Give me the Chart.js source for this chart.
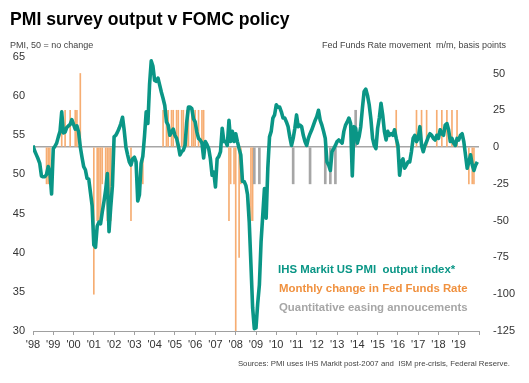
<!DOCTYPE html>
<html>
<head>
<meta charset="utf-8">
<script src="https://cdn.jsdelivr.net/npm/chart.js@4.4.1/dist/chart.umd.min.js"></script>
<style>
html, body { margin: 0; padding: 0; background: #fff; }
#wrap { width: 529px; height: 383px; position: relative; }
</style>
</head>
<body>
<div id="wrap"><canvas id="pmiChart"></canvas></div>
<script>
// PMI output index, monthly from Jan 1998 (ISM pre-2007, IHS Markit after)
const pmi = [
  53.7, 53.0, 52.5, 52.0, 51.4, 49.8, 49.7, 49.7, 50.0, 51.0, 50.3, 47.5, // 1998
  53.3, 53.6, 54.0, 54.8, 55.5, 58.0, 55.3, 55.4, 56.0, 56.2, 56.4, 57.0, // 1999
  56.4, 55.8, 56.2, 55.4, 53.5, 52.2, 51.0, 50.6, 49.5, 49.4, 47.7, 46.0, // 2000
  41.0, 40.7, 43.4, 43.9, 43.7, 45.2, 46.5, 48.0, 50.1, 42.7, 45.8, 48.5, // 2001
  54.8, 55.0, 55.4, 55.9, 56.5, 57.3, 55.6, 53.5, 52.5, 51.6, 51.2, 52.0, // 2002
  52.2, 51.6, 46.6, 47.4, 51.4, 52.3, 54.9, 58.0, 56.5, 61.5, 64.5, 63.8, // 2003
  62.0, 61.9, 62.3, 61.4, 60.5, 59.7, 58.8, 56.7, 56.3, 55.0, 55.4, 55.8, // 2004
  55.0, 54.6, 53.7, 52.5, 52.9, 53.1, 53.7, 56.7, 58.6, 58.6, 58.4, 57.1, // 2005
  56.7, 55.4, 54.6, 54.4, 54.0, 52.1, 54.2, 53.8, 53.3, 52.0, 49.9, 50.3, // 2006
  48.4, 52.0, 52.3, 52.9, 55.9, 54.2, 54.2, 53.7, 56.9, 54.2, 55.5, 54.2, // 2007
  55.2, 54.2, 53.3, 52.5, 49.1, 49.1, 48.6, 47.4, 43.9, 38.5, 33.0, 30.3, // 2008
  30.4, 33.5, 35.9, 41.4, 44.8, 48.2, 44.4, 50.8, 54.8, 55.5, 57.2, 57.6, // 2009
  58.9, 58.6, 58.6, 58.0, 57.2, 57.2, 56.7, 56.1, 54.8, 53.7, 54.6, 55.9, // 2010
  57.6, 56.1, 56.3, 56.1, 55.0, 54.2, 53.7, 54.6, 55.2, 55.7, 56.3, 56.9, // 2011
  57.4, 58.2, 56.9, 56.3, 55.5, 54.6, 51.6, 51.2, 50.5, 52.9, 53.3, 53.7, // 2012
  54.2, 54.4, 54.2, 54.0, 55.5, 56.3, 56.7, 57.2, 56.5, 49.8, 56.1, 55.9, // 2013
  54.0, 54.8, 56.1, 58.5, 60.6, 60.9, 60.1, 58.9, 57.1, 54.6, 53.7, 53.3, // 2014
  55.9, 57.2, 59.1, 57.6, 55.5, 54.4, 55.5, 55.0, 55.2, 55.0, 55.7, 54.6, // 2015
  53.7, 49.9, 51.6, 52.0, 50.8, 51.2, 51.6, 51.6, 52.9, 54.6, 55.0, 54.2, // 2016
  54.6, 56.1, 53.7, 52.9, 53.7, 54.2, 54.8, 55.2, 55.0, 54.6, 54.4, 55.0, // 2017
  54.6, 55.7, 55.2, 55.0, 56.3, 56.5, 55.7, 54.2, 54.6, 54.0, 53.7, 54.6, // 2018
  54.4, 55.0, 55.2, 54.2, 52.5, 50.8, 51.6, 52.5, 51.2, 50.5, 51.2, 51.6  // 2019
];

// Fed funds rate changes, basis points per month
const fedMonths = [
  '1998-09', '1998-10', '1998-11',
  '1999-06', '1999-08', '1999-11',
  '2000-02', '2000-03', '2000-05',
  '2001-01', '2001-03', '2001-04', '2001-05', '2001-06', '2001-08', '2001-09', '2001-10', '2001-11', '2001-12',
  '2002-11', '2003-06',
  '2004-06', '2004-08', '2004-09', '2004-11', '2004-12',
  '2005-02', '2005-03', '2005-05', '2005-06', '2005-08', '2005-09', '2005-11', '2005-12',
  '2006-01', '2006-03', '2006-05', '2006-06',
  '2007-09', '2007-10', '2007-12',
  '2008-01', '2008-03', '2008-04', '2008-10', '2008-11',
  '2015-12', '2016-12',
  '2017-03', '2017-06', '2017-12',
  '2018-03', '2018-06', '2018-09', '2018-12',
  '2019-07', '2019-09', '2019-10'
];
const fedChanges = [
  -25, -25, -25,
  25, 25, 25,
  25, 25, 50,
  -100, -50, -50, -50, -25, -25, -50, -50, -50, -25,
  -50, -25,
  25, 25, 25, 25, 25,
  25, 25, 25, 25, 25, 25, 25, 25,
  25, 25, 25, 25,
  -50, -25, -25,
  -125, -75, -25, -50, -50,
  25, 25,
  25, 25, 25,
  25, 25, 25, 25,
  -25, -25, -25
];

// Quantitative easing announcements (marker bars)
const qeMonths = ['2008-12', '2009-03', '2010-11', '2011-09', '2012-06', '2012-09', '2012-12', '2013-12'];
const qeMarks = [-25, -25, -25, -25, -25, -25, -25, 25];

const yearLabels = ["'98", "'99", "'00", "'01", "'02", "'03", "'04", "'05", "'06", "'07", "'08",
  "'09", "'10", "'11", "'12", "'13", "'14", "'15", "'16", "'17", "'18", "'19"];
const rightTicks = [-125, -100, -75, -50, -25, 0, 25, 50];

const TEAL = '#0a9686';
const ORANGE = '#f6ad72';
const GREY = '#a6a6a6';
const FONT = '"Liberation Sans", Arial, sans-serif';

const monthIndex = s => (parseInt(s.slice(0, 4)) - 1998) * 12 + parseInt(s.slice(5, 7)) - 1;

const textPlugin = {
  id: 'texts',
  afterDraw(chart) {
    const c = chart.ctx;
    c.save();
    c.textBaseline = 'alphabetic';
    c.fillStyle = '#000';
    c.textAlign = 'left';
    c.font = 'bold 17.6px ' + FONT;
    c.fillText('PMI survey output v FOMC policy', 10, 25);

    c.fillStyle = '#444';
    c.font = '9px ' + FONT;
    c.fillText('PMI, 50 = no change', 10, 47.5);
    c.textAlign = 'right';
    c.fillText('Fed Funds Rate movement  m/m, basis points', 506, 47.5);

    c.font = '7.8px ' + FONT;
    c.fillText('Sources: PMI uses IHS Markit post-2007 and  ISM pre-crisis, Federal Reserve.', 510, 366);

    c.textAlign = 'left';
    c.font = 'bold 11.4px ' + FONT;
    c.fillStyle = TEAL;
    c.fillText('IHS Markit US PMI  output index*', 278, 273);
    c.fillStyle = '#f0913f';
    c.fillText('Monthly change in Fed Funds Rate', 279, 292);
    c.fillStyle = GREY;
    c.fillText('Quantitative easing annoucements', 279, 311);
    c.restore();
  }
};

new Chart(document.getElementById('pmiChart'), {
  type: 'bar',
  data: {
    datasets: [
      {
        type: 'line',
        label: 'IHS Markit US PMI output index*',
        data: pmi.map((v, i) => ({ x: i, y: v })),
        yAxisID: 'y',
        borderColor: TEAL,
        borderWidth: 3.6,
        pointRadius: 0,
        tension: 0,
        borderJoinStyle: 'round',
        order: 0
      },
      {
        label: 'Monthly change in Fed Funds Rate',
        data: fedMonths.map((m, i) => ({ x: monthIndex(m), y: fedChanges[i] })),
        yAxisID: 'y1',
        backgroundColor: ORANGE,
        barThickness: 1,
        grouped: false,
        order: 2
      },
      {
        label: 'Quantitative easing annoucements',
        data: qeMonths.map((m, i) => ({ x: monthIndex(m), y: qeMarks[i] })),
        yAxisID: 'y1',
        backgroundColor: GREY,
        barThickness: 2,
        grouped: false,
        order: 1
      }
    ]
  },
  options: {
    responsive: true,
    maintainAspectRatio: false,
    animation: false,
    devicePixelRatio: 1,
    layout: { padding: { top: 57, left: 0, right: 0, bottom: 0 } },
    plugins: { legend: { display: false }, tooltip: { enabled: false } },
    scales: {
      x: {
        type: 'linear',
        min: 0,
        max: 264,
        offset: false,
        afterFit: s => { s.height = 52; },
        ticks: {
          stepSize: 12,
          autoSkip: false,
          maxRotation: 0,
          padding: 3,
          color: '#333',
          font: { family: FONT, size: 11 },
          callback: v => yearLabels[v / 12] || ''
        },
        grid: { drawOnChartArea: false, offset: false, tickLength: 4, color: '#a0a0a0' },
        border: { display: true, color: '#a0a0a0' }
      },
      y: {
        position: 'left',
        min: 30,
        max: 65,
        afterFit: s => { s.width = 33; },
        ticks: { stepSize: 5, padding: 8, color: '#333', font: { family: FONT, size: 11 } },
        grid: { display: false, drawTicks: false },
        border: { display: false }
      },
      y1: {
        position: 'right',
        min: -125,
        max: 61.2,
        afterFit: s => { s.width = 50; },
        afterBuildTicks: s => { s.ticks = rightTicks.map(v => ({ value: v })); },
        ticks: { padding: 14, color: '#333', font: { family: FONT, size: 11 } },
        grid: {
          drawTicks: false,
          lineWidth: 1.5,
          color: ctx => (ctx.tick && ctx.tick.value === 0 ? GREY : 'rgba(0,0,0,0)')
        },
        border: { display: false }
      }
    }
  },
  plugins: [textPlugin]
});
</script>
</body>
</html>
